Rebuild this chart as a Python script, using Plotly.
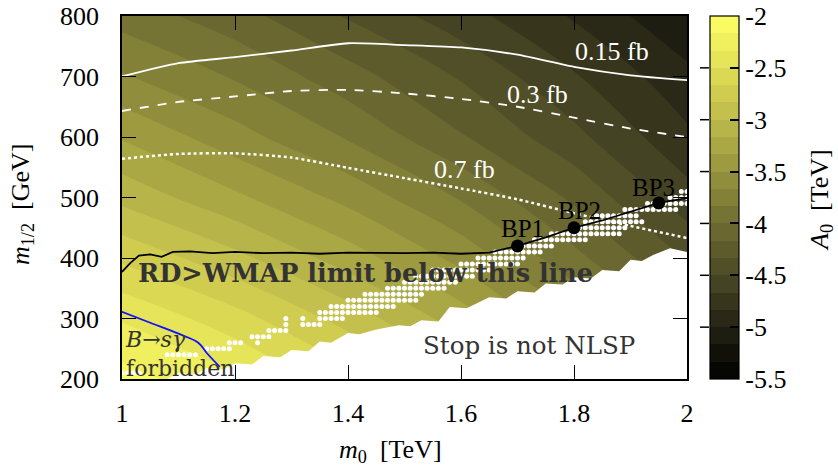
import numpy as np
import plotly.graph_objects as go

# ---------------- data ----------------
m0_grid = [1.0, 1.2, 1.4, 1.6, 1.8, 2.0]              # TeV
m12_grid = [200, 300, 400, 500, 600, 700, 800]        # GeV
A0_grid = [                                            # TeV, rows follow m12_grid
    [-2.10, -2.30, -2.60, -2.95, -3.35, -3.75],
    [-2.35, -2.60, -2.90, -3.25, -3.65, -4.05],
    [-2.70, -2.95, -3.25, -3.55, -3.95, -4.35],
    [-3.05, -3.30, -3.55, -3.85, -4.20, -4.60],
    [-3.35, -3.60, -3.85, -4.15, -4.45, -4.80],
    [-3.65, -3.85, -4.10, -4.35, -4.65, -4.95],
    [-3.90, -4.10, -4.35, -4.60, -4.85, -5.15],
]

xs015_m0 = [1.0, 1.1, 1.2, 1.3, 1.4, 1.5, 1.6, 1.7, 1.8, 1.9, 2.0]
xs015_m12 = [700, 722, 732, 743, 755, 752, 748, 736, 716, 702, 694]
xs03_m0 = [1.0, 1.1, 1.2, 1.3, 1.4, 1.5, 1.6, 1.7, 1.8, 1.9, 2.0]
xs03_m12 = [643, 658, 667, 676, 678, 672, 663, 650, 632, 614, 600]
xs07_m0 = [1.0, 1.1, 1.2, 1.3, 1.4, 1.5, 1.6, 1.7, 1.8, 1.9, 2.0]
xs07_m12 = [564, 572, 573, 566, 549, 532, 515, 497, 474, 453, 433]

wmap_m0 = [1.00, 1.015, 1.03, 1.05, 1.07, 1.09, 1.12, 1.16, 1.20, 1.25, 1.30, 1.35,
           1.40, 1.45, 1.50, 1.55, 1.60, 1.65, 1.70, 1.75, 1.80, 1.85, 1.90, 1.95, 2.00]
wmap_m12 = [377, 392, 404, 406, 402, 410, 411, 408, 410, 408, 409, 407,
            409, 408, 408, 409, 407, 409, 420, 434, 450, 462, 476, 491, 499]

bsg_m0 = [1.0, 1.05, 1.10, 1.135, 1.15, 1.173]
bsg_m12 = [311, 293, 275, 260, 243, 220]

stop_m0 = [1.08, 1.10, 1.13, 1.15, 1.18, 1.20, 1.23, 1.25, 1.28, 1.30, 1.33, 1.35, 1.37,
           1.40, 1.42, 1.45, 1.49, 1.51, 1.53, 1.56, 1.58, 1.61, 1.65, 1.68, 1.70,
           1.73, 1.75, 1.78, 1.80, 1.83, 1.85, 1.88, 1.90, 1.92, 1.94, 1.97, 2.00]
stop_m12 = [200, 210, 208, 218, 216, 226, 224, 238, 236, 248, 246, 262, 260,
            276, 274, 282, 289, 287, 297, 295, 319, 317, 335, 333, 345,
            343, 358, 356, 368, 366, 380, 378, 397, 395, 405, 416, 410]

# rows of white scan points (m12 row, first m0, last m0)
dot_row = [210, 240, 250, 260, 260, 270, 280, 290, 290, 300, 300, 300, 310, 320, 330,
           340, 350, 360, 370, 380, 390, 400, 410, 420, 430, 440, 450, 460, 470, 480,
           490, 500, 510]
dot_from = [1.00, 1.08, 1.15, 1.19, 1.24, 1.23, 1.26, 1.29, 1.32, 1.29, 1.32, 1.35, 1.35,
            1.37, 1.40, 1.43, 1.47, 1.50, 1.52, 1.55, 1.60, 1.63, 1.66, 1.71, 1.73, 1.76,
            1.80, 1.82, 1.84, 1.89, 1.93, 1.97, 1.99]
dot_to = [1.03, 1.13, 1.19, 1.21, 1.24, 1.26, 1.29, 1.29, 1.35, 1.29, 1.32, 1.39, 1.45,
          1.48, 1.52, 1.53, 1.57, 1.59, 1.62, 1.65, 1.70, 1.71, 1.74, 1.76, 1.82, 1.88,
          1.89, 1.92, 1.91, 1.98, 2.00, 2.00, 2.00]

bp_names = ["BP1", "BP2", "BP3"]
bp_m0 = [1.70, 1.80, 1.95]
bp_m12 = [420, 450, 491]

cb_ticks = [-5.5, -5, -4.5, -4, -3.5, -3, -2.5, -2]
cb_text = ["-5.5", "-5", "-4.5", "-4", "-3.5", "-3", "-2.5", "-2"]
x_ticks = [1, 1.2, 1.4, 1.6, 1.8, 2]
x_text = ["1", "1.2", "1.4", "1.6", "1.8", "2"]
y_ticks = [200, 300, 400, 500, 600, 700, 800]

# ---------------- figure ----------------
FONT = "Liberation Serif"
WIDE = "DejaVu Serif"
colorscale = [
    [0.0, "rgb(0,0,0)"],
    [0.143, "rgb(35,35,20)"],
    [0.286, "rgb(75,73,38)"],
    [0.429, "rgb(112,110,50)"],
    [0.571, "rgb(150,147,62)"],
    [0.714, "rgb(190,186,75)"],
    [0.857, "rgb(225,222,85)"],
    [1.0, "rgb(255,255,100)"],
]

PW = 565.0   # plot width in px
PH = 363.0   # plot height in px
cb_x0 = (700 - 122) / PW

fig = go.Figure()
fig.add_trace(go.Contour(
    x=m0_grid, y=m12_grid, z=A0_grid,
    colorscale=colorscale, zmin=-5.5, zmax=-2,
    autocontour=False,
    contours=dict(start=-5.5, end=-2, size=1/6, coloring="fill", showlines=False),
    line=dict(width=0, smoothing=1),
    colorbar=dict(
        x=cb_x0, xanchor="left", xref="paper",
        y=0.5, yanchor="middle", len=1, lenmode="fraction", ypad=0,
        thickness=29, thicknessmode="pixels",
        outlinecolor="black", outlinewidth=1.2,
        tickvals=cb_ticks, ticktext=cb_text,
        ticks="inside", ticklen=9, tickwidth=1.5, tickcolor="black",
        tickfont=dict(family=FONT, size=26, color="black"),
    ),
    showscale=True,
    hoverinfo="skip",
))

# stop is not NLSP region (white)
poly_x = stop_m0 + [2.0, 2.0, stop_m0[0]]
poly_y = stop_m12 + [stop_m12[-1], 200, 200]
fig.add_trace(go.Scatter(x=poly_x, y=poly_y, fill="toself", fillcolor="white",
                         mode="lines", line=dict(width=0, color="white"),
                         showlegend=False, hoverinfo="skip"))

# white scan points
dx, dy = [], []
for r, a, b in zip(dot_row, dot_from, dot_to):
    pts = np.round(np.arange(a, b + 1e-9, 0.01), 2)
    dx.extend(pts.tolist())
    dy.extend([r] * len(pts))
fig.add_trace(go.Scatter(x=dx, y=dy, mode="markers",
                         marker=dict(size=5, color="white", line=dict(width=0)),
                         showlegend=False, hoverinfo="skip"))

# cross-section contours
fig.add_trace(go.Scatter(x=xs015_m0, y=xs015_m12, mode="lines",
                         line=dict(color="white", width=1.8, shape="spline", smoothing=0.6),
                         showlegend=False))
fig.add_trace(go.Scatter(x=xs03_m0, y=xs03_m12, mode="lines",
                         line=dict(color="white", width=1.8, dash="dash", shape="spline", smoothing=0.6),
                         showlegend=False))
fig.add_trace(go.Scatter(x=xs07_m0, y=xs07_m12, mode="lines",
                         line=dict(color="white", width=2.5, dash="dot", shape="spline", smoothing=0.6),
                         showlegend=False))

# RD > WMAP line
fig.add_trace(go.Scatter(x=wmap_m0, y=wmap_m12, mode="lines",
                         line=dict(color="black", width=1.8), showlegend=False))
# B -> s gamma line
fig.add_trace(go.Scatter(x=bsg_m0, y=bsg_m12, mode="lines",
                         line=dict(color="#1010ff", width=1.8, shape="spline"), showlegend=False))
# benchmark points
fig.add_trace(go.Scatter(x=bp_m0, y=bp_m12, mode="markers",
                         marker=dict(size=13, color="black"), showlegend=False))

def ann(text, x, y, size=26, color="black", xanchor="center", family=FONT, align="center"):
    fig.add_annotation(text=text, x=x, y=y,
                       xref="x", yref="y", showarrow=False, xanchor=xanchor,
                       yanchor="middle", align=align,
                       font=dict(family=family, size=size, color=color))

ann("0.15 fb", 1.867, 742, color="white")
ann("0.3 fb", 1.736, 670, color="white")
ann("0.7 fb", 1.607, 547, color="white")
for n, x0, y0 in zip(bp_names, [1.708, 1.81, 1.94], [448, 478, 516]):
    ann(n, x0, y0, size=25)
ann("<b>RD&gt;WMAP limit below this line</b>", 1.024, 376, size=25.5, color="#333333",
    xanchor="left", family=WIDE)
ann("<i>B</i>→<i>sγ</i><br>forbidden", 1.002, 242, size=22, color="#333333",
    xanchor="left", family=WIDE, align="left")
ann("Stop is not NLSP", 1.72, 256, size=24.5, color="#333333", family=WIDE)

# axis titles
fig.add_annotation(text="<i>m</i><sub>0</sub>  [TeV]", xref="paper", yref="paper",
                   x=(390 - 122) / PW, y=-(451 - 379) / PH, showarrow=False,
                   xanchor="center", yanchor="middle",
                   font=dict(family=FONT, size=26, color="black"))
fig.add_annotation(text="<i>m</i><sub>1/2</sub>  [GeV]", xref="paper", yref="paper",
                   x=-(122 - 22) / PW, y=(379 - 205) / PH, textangle=-90, showarrow=False,
                   xanchor="center", yanchor="middle",
                   font=dict(family=FONT, size=26, color="black"))
fig.add_annotation(text="<i>A</i><sub>0</sub>  [TeV]", xref="paper", yref="paper",
                   x=(821 - 122) / PW, y=(379 - 200) / PH, textangle=-90, showarrow=False,
                   xanchor="center", yanchor="middle",
                   font=dict(family=FONT, size=26, color="black"))

# left-side dashes on colorbar
for v in cb_ticks[1:-1]:
    yv = (v + 5.5) / 3.5
    fig.add_shape(type="line", xref="paper", yref="paper",
                  x0=cb_x0, x1=cb_x0 + 9 / PW, y0=yv, y1=yv,
                  line=dict(color="black", width=1.5))

fig.update_xaxes(range=[1, 2], tickvals=x_ticks, ticktext=x_text, automargin=False,
                 ticks="inside", ticklen=14, tickwidth=1.2, tickcolor="black",
                 showline=True, linecolor="black", linewidth=1.5, mirror="ticks",
                 showgrid=False, zeroline=False, ticklabelstandoff=10,
                 tickfont=dict(family=FONT, size=26, color="black"))
fig.update_yaxes(range=[200, 800], tickvals=y_ticks, automargin=False,
                 ticks="inside", ticklen=14, tickwidth=1.2, tickcolor="black",
                 showline=True, linecolor="black", linewidth=1.5, mirror="ticks",
                 showgrid=False, zeroline=False, ticklabelstandoff=16,
                 tickfont=dict(family=FONT, size=26, color="black"))

fig.update_layout(width=838, height=470, margin=dict(l=122, r=151, t=16, b=91, autoexpand=False),
                  paper_bgcolor="white", plot_bgcolor="white", showlegend=False)

fig.write_html("out.html")
